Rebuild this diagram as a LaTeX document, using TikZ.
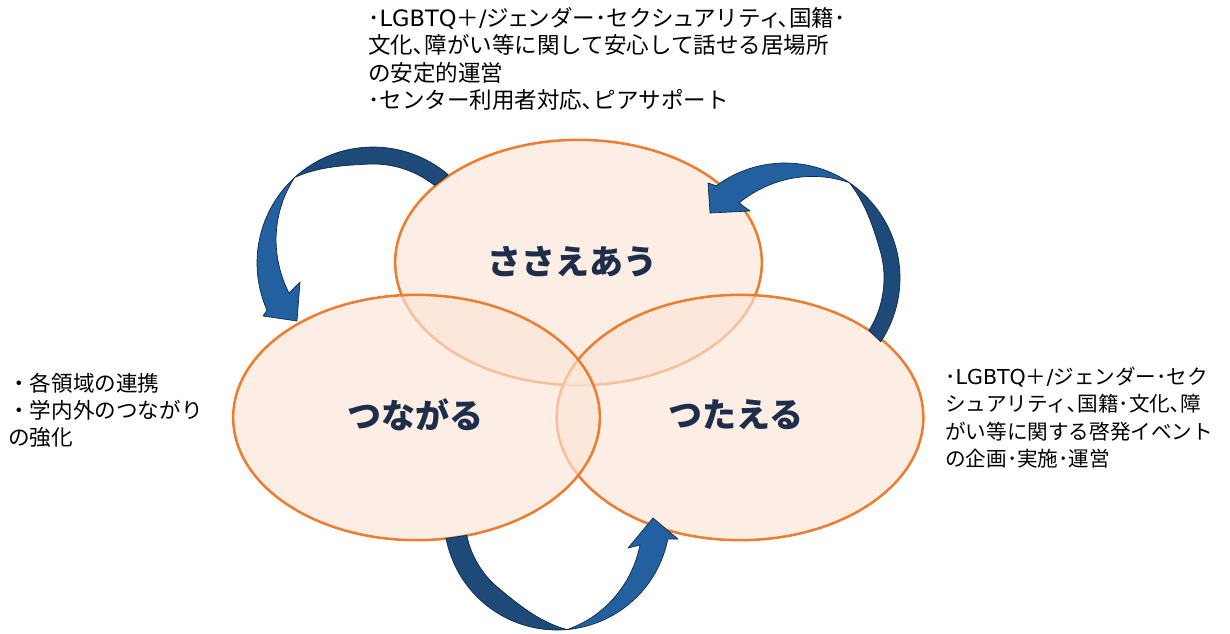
\documentclass[tikz,border=0pt]{standalone}
\usepackage{fontspec}
\newfontfamily\cjk{Noto Sans CJK JP}
\newfontfamily\cjkp[RawFeature=+palt]{Noto Sans CJK JP}
\newfontfamily\dv{DejaVu Sans}
\newcommand\smk[1]{{\cjkp #1}}
\usetikzlibrary{shapes.geometric}
\definecolor{ellfill}{HTML}{FBE5D6}
\definecolor{ellline}{HTML}{ED7D31}
\definecolor{arrdk}{HTML}{1D4A78}
\definecolor{arrlt}{HTML}{2360A0}
\definecolor{arrln}{HTML}{0E2844}
\definecolor{lblcol}{HTML}{1E2E4A}
\begin{document}
\begin{tikzpicture}[x=0.75pt,y=-0.75pt,
  ell/.style={ellipse, draw=ellline, line width=1.9pt, fill=ellfill, fill opacity=0.65,
    minimum width=275pt, minimum height=184pt, inner sep=0pt},
  bandback/.style={fill=arrdk, draw=arrln, line width=0.5pt, line join=round},
  bandfront/.style={fill=arrlt, draw=arrln, line width=0.5pt, line join=round},
  lbl/.style={font=\cjk\bfseries\fontsize{25.5}{30}\selectfont, text=lblcol, inner sep=0pt},
  note/.style={align=left, anchor=north west, inner sep=0pt, text=black}]
\useasboundingbox[fill=white] (0,0) rectangle (1230,633);

% ellipses (order: top, right, left)
\node[ell] (sasae) at (578.5,262.5) {};
\node[ell] (tsutae) at (740,417.5) {};
\node[ell] (tsunaga) at (416.5,417.5) {};

% labels
\node[lbl] (lsasae) at (572,262) {ささえあう};
\node[lbl] (ltsunaga) at (415,415) {つながる};
\node[lbl] (ltsutae) at (736,415) {つたえる};

% arrow 1 (top left): centre (373,263), R=116
\filldraw[bandback]
  plot[domain=-49.5:-132.5, samples=60] ({373+116*cos(\x)}, {263+116*sin(\x)})
  -- plot[domain=-132.5:-51.5, samples=60]
     ({373+(116-17*sin(90*min(1,abs(\x+132.5)/40)))*cos(\x)},
      {263+(116-17*sin(90*min(1,abs(\x+132.5)/40)))*sin(\x)}) -- cycle;
\filldraw[bandfront]
  plot[domain=-132.5:-204, samples=60] ({373+116*cos(\x)}, {263+116*sin(\x)})
  -- (263,316) -- (297,321) -- (300,282)
  -- plot[domain=-199.7:-132.5, samples=60]
     ({373+(116-26.8*(0.5*abs(\x+132.5)/67.2+0.5*sin(90*abs(\x+132.5)/67.2)))*cos(\x)},
      {263+(116-26.8*(0.5*abs(\x+132.5)/67.2+0.5*sin(90*abs(\x+132.5)/67.2)))*sin(\x)}) -- cycle;

% arrow 2 (top right): centre (785,278), R=115
\filldraw[bandback]
  plot[domain=33.7:-56, samples=60] ({785+115*cos(\x)}, {278+115*sin(\x)})
  -- plot[domain=-56:32, samples=60]
     ({785+(115-16*sin(90*min(1,abs(\x+56)/40)))*cos(\x)},
      {278+(115-16*sin(90*min(1,abs(\x+56)/40)))*sin(\x)}) -- cycle;
\filldraw[bandfront]
  plot[domain=-56:-126.7, samples=60] ({785+115*cos(\x)}, {278+115*sin(\x)})
  -- (708,183) -- (710,213) -- (750,211)
  -- plot[domain=-121.5:-56, samples=60]
     ({785+(115-27*(0.5*abs(\x+56)/65.5+0.5*sin(90*abs(\x+56)/65.5)))*cos(\x)},
      {278+(115-27*(0.5*abs(\x+56)/65.5+0.5*sin(90*abs(\x+56)/65.5)))*sin(\x)}) -- cycle;

% arrow 3 (bottom): centre (557,517), R=113
\filldraw[bandback]
  plot[domain=169.1:84.9, samples=60] ({557+113*cos(\x)}, {517+113*sin(\x)})
  -- plot[domain=84.9:168.5, samples=60]
     ({557+(113-21*sin(90*min(1,abs(\x-84.9)/45)))*cos(\x)},
      {517+(113-21*sin(90*min(1,abs(\x-84.9)/45)))*sin(\x)}) -- cycle;
\filldraw[bandfront]
  plot[domain=84.9:11.3, samples=60] ({557+113*cos(\x)}, {517+113*sin(\x)})
  -- (678,539) -- (653,518) -- (628,548)
  -- plot[domain=18.6:84.9, samples=60]
     ({557+(113-25.4*(0.5*abs(\x-84.9)/66.3+0.5*sin(90*abs(\x-84.9)/66.3)))*cos(\x)},
      {517+(113-25.4*(0.5*abs(\x-84.9)/66.3+0.5*sin(90*abs(\x-84.9)/66.3)))*sin(\x)}) -- cycle;

% notes
\node[note, font=\cjk\fontsize{16.9}{20.6}\selectfont] (ntop) at (368,7)
  {･{\dv LGBTQ}＋{\dv /}ジ\smk{ェ}ンダー･セクシ\smk{ュ}アリテ\smk{ィ}､国籍･\\文化､障がい等に関して安心して話せる居場所\\の安定的運営\\･センター利用者対応､ピアサポート};
\node[note, font=\cjk\fontsize{16.2}{20.25}\selectfont] (nleft) at (8,373)
  {・各領域の連携\\・学内外のつながり\\の強化};
\node[note, font=\cjk\fontsize{15.45}{20.4}\selectfont] (nright) at (945,367)
  {･{\dv LGBTQ}＋{\dv /}ジェンダー･セク\\シュアリティ､国籍･文化､障\\がい等に関する啓発イベント\\の企画･実施･運営};
\end{tikzpicture}
\end{document}
